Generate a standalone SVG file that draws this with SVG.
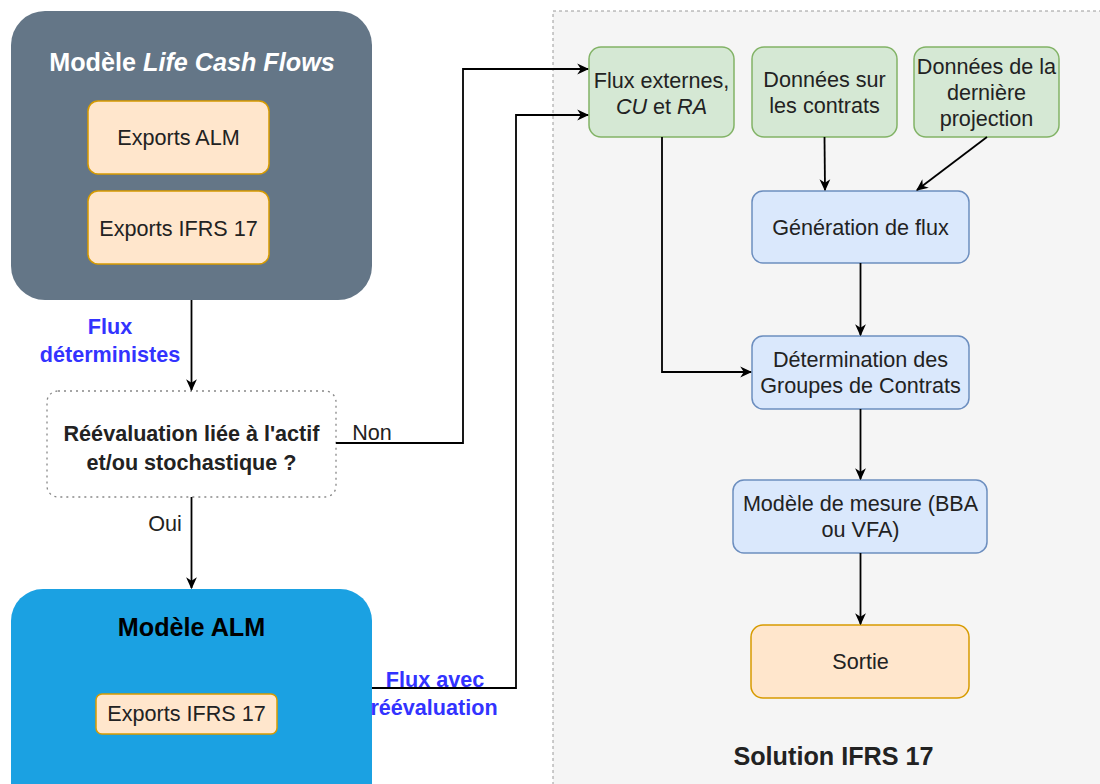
<svg xmlns="http://www.w3.org/2000/svg" width="1100" height="784" viewBox="0 0 1100 784">
<defs>
<marker id="arr" viewBox="0 0 10 10" refX="9" refY="5" markerWidth="12" markerHeight="12" markerUnits="userSpaceOnUse" orient="auto">
<path d="M0,0.5 L10,5 L0,9.5 L3,5 Z" fill="#000"/>
</marker>
<style>
text{font-family:"Liberation Sans",Arial,sans-serif;font-size:21.6px;fill:#222;text-anchor:middle}
.b{font-weight:bold}
.t{font-weight:bold;font-size:25.2px}
.w{fill:#fff}
.blue{fill:#3333ff;font-weight:bold}
.orange{fill:#ffe6cc;stroke:#d79b00;stroke-width:1.5}
.green{fill:#d5e8d4;stroke:#82b366;stroke-width:1.5}
.bluebox{fill:#dae8fc;stroke:#6c8ebf;stroke-width:1.5}
.edge{fill:none;stroke:#000;stroke-width:1.8;marker-end:url(#arr)}
</style>
</defs>
<rect width="1100" height="784" fill="#fff"/>

<g id="solution">
<rect x="553" y="11" width="560" height="790" fill="#f5f5f5" stroke="#9a9a9a" stroke-width="1" stroke-dasharray="3 3"/>
<text class="t" x="833.5" y="765">Solution IFRS 17</text>
</g>

<g id="lcf">
<rect x="11" y="11" width="361" height="289" rx="34" fill="#647687"/>
<text class="t w" x="192" y="71">Modèle <tspan font-style="italic">Life Cash Flows</tspan></text>
</g>
<g id="lcf-alm">
<rect class="orange" x="88" y="101" width="181" height="73" rx="10"/>
<text x="178.5" y="145">Exports ALM</text>
</g>
<g id="lcf-ifrs">
<rect class="orange" x="88" y="191" width="181" height="73" rx="10"/>
<text x="178.5" y="236">Exports IFRS 17</text>
</g>

<g id="decision">
<rect x="47" y="391" width="289" height="106" rx="11" fill="#fff" stroke="#888" stroke-width="1.3" stroke-dasharray="2 4"/>
<text class="b" x="191.5" y="441">Réévaluation liée à l'actif</text>
<text class="b" x="191.5" y="470">et/ou stochastique ?</text>
</g>

<g id="alm">
<rect x="11" y="589" width="361" height="230" rx="32" fill="#1ba1e2"/>
<text class="t" x="191.5" y="636" style="fill:#000">Modèle ALM</text>
</g>
<g id="alm-ifrs">
<rect class="orange" x="96" y="694" width="181" height="40" rx="6"/>
<text x="186.5" y="721">Exports IFRS 17</text>
</g>

<g id="flux-externes">
<rect class="green" x="589" y="47" width="145" height="90" rx="12"/>
<text x="661.5" y="88">Flux externes,</text>
<text x="661.5" y="114"><tspan font-style="italic">CU</tspan> et <tspan font-style="italic">RA</tspan></text>
</g>
<g id="donnees-contrats">
<rect class="green" x="752" y="47" width="145" height="90" rx="12"/>
<text x="824.5" y="87">Données sur</text>
<text x="824.5" y="113">les contrats</text>
</g>
<g id="donnees-projection">
<rect class="green" x="914" y="47" width="145" height="90" rx="12"/>
<text x="986.5" y="74">Données de la</text>
<text x="986.5" y="100">dernière</text>
<text x="986.5" y="126">projection</text>
</g>
<g id="generation">
<rect class="bluebox" x="752" y="191" width="217" height="72" rx="11"/>
<text x="860.5" y="235">Génération de flux</text>
</g>
<g id="determination">
<rect class="bluebox" x="752" y="336" width="217" height="73" rx="11"/>
<text x="860.5" y="367">Détermination des</text>
<text x="860.5" y="393">Groupes de Contrats</text>
</g>
<g id="mesure">
<rect class="bluebox" x="733" y="480" width="254" height="73" rx="11"/>
<text x="860.5" y="511">Modèle de mesure (BBA</text>
<text x="860.5" y="537">ou VFA)</text>
</g>
<g id="sortie">
<rect class="orange" x="751" y="625" width="218" height="73" rx="12"/>
<text x="860.5" y="669">Sortie</text>
</g>

<g id="connectors">
<path class="edge" d="M191.5,300 L191.5,390"/>
<path class="edge" d="M191.5,497 L191.5,588"/>
<path class="edge" d="M336,443 L463,443 L463,69 L588,69"/>
<path class="edge" d="M372,688 L516,688 L516,115 L588,115"/>
<path class="edge" d="M824.5,137 L825,190"/>
<path class="edge" d="M987,137 L917,190"/>
<path class="edge" d="M662,137 L662,372 L751,372"/>
<path class="edge" d="M860.5,263 L860.5,335"/>
<path class="edge" d="M860.5,409 L860.5,479"/>
<path class="edge" d="M860.5,553 L860.5,624"/>
<text class="blue" x="110" y="334">Flux</text>
<text class="blue" x="110" y="362">déterministes</text>
<text x="372" y="440">Non</text>
<text x="165" y="531">Oui</text>
<text class="blue" x="435" y="687">Flux avec</text>
<text class="blue" x="434" y="715">réévaluation</text>
</g>
</svg>
